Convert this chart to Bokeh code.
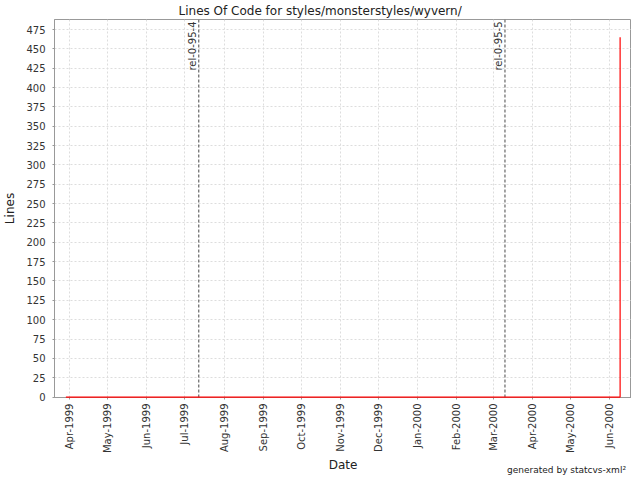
import math
from datetime import datetime
from bokeh.plotting import figure
from bokeh.layouts import column
from bokeh.models import (Range1d, MonthsTicker, SingleIntervalTicker, DatetimeTickFormatter,
                          Span, Label, ColumnDataSource, Title, Div)
from bokeh.embed import file_html
from bokeh.resources import INLINE

# ---- data ----
title_text = "Lines Of Code for styles/monsterstyles/wyvern/"
loc_dates = ["1999-03-29", "2000-06-09"]
loc_values = [0, 465]
marker_dates = ["1999-07-12", "2000-03-10"]
marker_names = ["rel-0-95-4", "rel-0-95-5"]
x_start, x_end = "1999-03-20", "2000-06-18"
y_start, y_end = -0.6, 488

FONT = "DejaVu Sans"

def d(s):
    return datetime.strptime(s, "%Y-%m-%d")

p = figure(frame_width=577, frame_height=378, output_backend="svg", toolbar_location=None,
           x_axis_type="datetime",
           x_range=Range1d(d(x_start), d(x_end)), y_range=Range1d(y_start, y_end),
           min_border_left=47, min_border_right=0, min_border_top=0, min_border_bottom=0)
p.outline_line_color = "#999999"
p.background_fill_color = "white"

src = ColumnDataSource(dict(x=[d(s) for s in loc_dates], y=loc_values))
r = p.step("x", "y", source=src, mode="after", line_color="#ff0000", line_width=1.2)
r.level = "overlay"

for md, name in zip(marker_dates, marker_names):
    p.add_layout(Span(location=d(md), dimension="height", line_color="#666666",
                      line_dash="3 2", line_width=1.2))
    p.add_layout(Label(x=d(md), y=y_end, text=name, angle=math.pi / 2,
                       text_align="right", text_baseline="bottom", y_offset=-2, x_offset=-1,
                       text_font=FONT, text_font_size="10px", text_color="#333333"))

p.xaxis.ticker = MonthsTicker(months=list(range(12)))
fmt = "%b-%Y"
p.xaxis.formatter = DatetimeTickFormatter(months=fmt, days=fmt, years=fmt, hours=fmt)
p.xaxis.major_label_orientation = math.pi / 2
p.yaxis.ticker = SingleIntervalTicker(interval=25)

for ax in (p.xaxis, p.yaxis):
    ax.axis_line_color = "#999999"
    ax.major_tick_line_color = "#999999"
    ax.major_tick_out = 2
    ax.major_tick_in = 0
    ax.minor_tick_line_color = None
    ax.major_label_text_font = FONT
    ax.major_label_text_font_size = "10px"
    ax.major_label_text_color = "#333333"
    ax.axis_label_text_font = FONT
    ax.axis_label_text_font_size = "12px"
    ax.axis_label_text_font_style = "normal"
    ax.axis_label_text_color = "#222222"
p.xaxis.axis_label = "Date"
p.yaxis.axis_label = "Lines"
p.xaxis.axis_label_standoff = 2
p.yaxis.axis_label_standoff = 6
p.xaxis.major_label_standoff = 4

p.grid.grid_line_color = "#dddddd"
p.grid.grid_line_dash = "2 2"

p.title = Title(text=title_text, align="left", offset=124, standoff=3,
                text_font=FONT, text_font_size="12px", text_font_style="normal",
                text_color="#222222")

credit = Div(text="generated by statcvs-xml²", width=626, height=12,
             margin=(-11, 0, 0, 0),
             styles={"text-align": "right", "font-family": "DejaVu Sans",
                     "font-size": "9px", "color": "#222222", "line-height": "12px"})

layout = column(p, credit, spacing=0)
open("out.html", "w").write(file_html(layout, INLINE))
